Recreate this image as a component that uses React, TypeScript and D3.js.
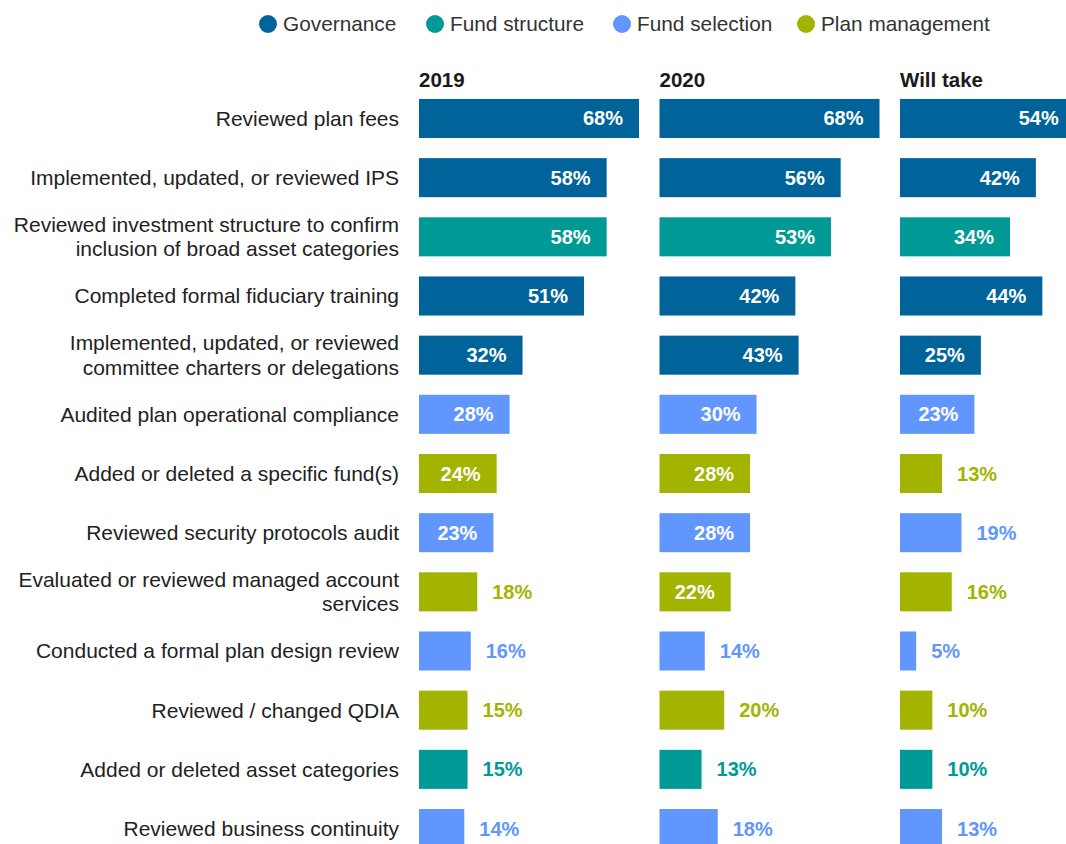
import { useRef, useEffect } from 'react';
import * as d3 from 'd3';

const categories = [
  'Reviewed plan fees',
  'Implemented, updated, or reviewed IPS',
  'Reviewed investment structure to confirm|inclusion of broad asset categories',
  'Completed formal fiduciary training',
  'Implemented, updated, or reviewed|committee charters or delegations',
  'Audited plan operational compliance',
  'Added or deleted a specific fund(s)',
  'Reviewed security protocols audit',
  'Evaluated or reviewed managed account|services',
  'Conducted a formal plan design review',
  'Reviewed / changed QDIA',
  'Added or deleted asset categories',
  'Reviewed business continuity',
];

const groups = ['Governance', 'Governance', 'Fund structure', 'Governance', 'Governance',
  'Fund selection', 'Plan management', 'Fund selection', 'Plan management', 'Fund selection',
  'Plan management', 'Fund structure', 'Fund selection'];

const periods = ['2019', '2020', 'Will take'];
const values2019 = [68, 58, 58, 51, 32, 28, 24, 23, 18, 16, 15, 15, 14];
const values2020 = [68, 56, 53, 42, 43, 30, 28, 28, 22, 14, 20, 13, 18];
const valuesWillTake = [54, 42, 34, 44, 25, 23, 13, 19, 16, 5, 10, 10, 13];

const legendNames = ['Governance', 'Fund structure', 'Fund selection', 'Plan management'];
const legendColors = ['#00639A', '#009A96', '#6196FF', '#A2B400'];

const W = 1066;
const H = 844;
const FONT = '"Liberation Sans", Arial, sans-serif';

export default function App() {
  const ref = useRef<SVGSVGElement>(null);

  useEffect(() => {
    if (!ref.current) return;
    const svg = d3.select(ref.current);
    svg.selectAll('*').remove();

    const color = d3.scaleOrdinal<string, string>().domain(legendNames).range(legendColors);
    const series = [values2019, values2020, valuesWillTake];

    const y = d3.scaleBand().domain(categories).range([99 - 10.1, 99 - 10.1 + 59.17 * 13]).paddingInner(0.34).paddingOuter(0.17);
    const px = d3.scaleBand().domain(periods).range([419, 419 + 240.5 * 3]).padding(0);
    const x = d3.scaleLinear().domain([0, 68]).range([0, 220]);

    // legend
    const legendX = [268, 435, 622, 806];
    const legend = svg.append('g').attr('font-family', FONT).attr('font-size', 20.8);
    legendNames.forEach((name, i) => {
      const g = legend.append('g').attr('transform', `translate(${legendX[i]},24)`);
      g.append('circle').attr('r', 9).attr('fill', color(name));
      g.append('text').attr('x', 15).attr('dy', '0.35em').attr('fill', '#333').text(name);
    });

    // period headers
    svg.append('g').selectAll('text').data(periods).join('text')
      .attr('x', d => px(d)!)
      .attr('y', 80)
      .attr('dy', '0.35em')
      .attr('font-family', FONT)
      .attr('font-size', 20.5)
      .attr('font-weight', 'bold')
      .attr('fill', '#1a1a1a')
      .text(d => d);

    // category labels
    const labels = svg.append('g').attr('font-family', FONT).attr('font-size', 21).attr('fill', '#222').attr('text-anchor', 'end');
    categories.forEach(c => {
      const lines = c.split('|');
      const cy = y(c)! + y.bandwidth() / 2;
      const t = labels.append('text').attr('x', 399).attr('y', cy - (lines.length - 1) * 12.25);
      lines.forEach((l, i) => {
        t.append('tspan').attr('x', 399).attr('dy', i === 0 ? '0.35em' : 24.5).text(l);
      });
    });

    // bars
    periods.forEach((p, pi) => {
      const g = svg.append('g').attr('transform', `translate(${px(p)},0)`);
      const rows = categories.map((c, i) => ({ c, v: series[pi][i], grp: groups[i] }));
      g.selectAll('rect').data(rows).join('rect')
        .attr('x', 0)
        .attr('y', d => y(d.c)!)
        .attr('width', d => x(d.v))
        .attr('height', y.bandwidth())
        .attr('fill', d => color(d.grp));
      g.selectAll('text').data(rows).join('text')
        .attr('x', d => (d.v > 20 ? x(d.v) - 16 : x(d.v) + 15))
        .attr('y', d => y(d.c)! + y.bandwidth() / 2)
        .attr('dy', '0.35em')
        .attr('text-anchor', d => (d.v > 20 ? 'end' : 'start'))
        .attr('font-family', FONT)
        .attr('font-size', 20)
        .attr('font-weight', 'bold')
        .attr('fill', d => (d.v > 20 ? '#fff' : color(d.grp)))
        .text(d => `${d.v}%`);
    });
  }, []);

  return (
    <svg
      ref={ref}
      width={W}
      height={H}
      style={{ position: 'absolute', left: 0, top: 0, background: '#fff' }}
    />
  );
}
